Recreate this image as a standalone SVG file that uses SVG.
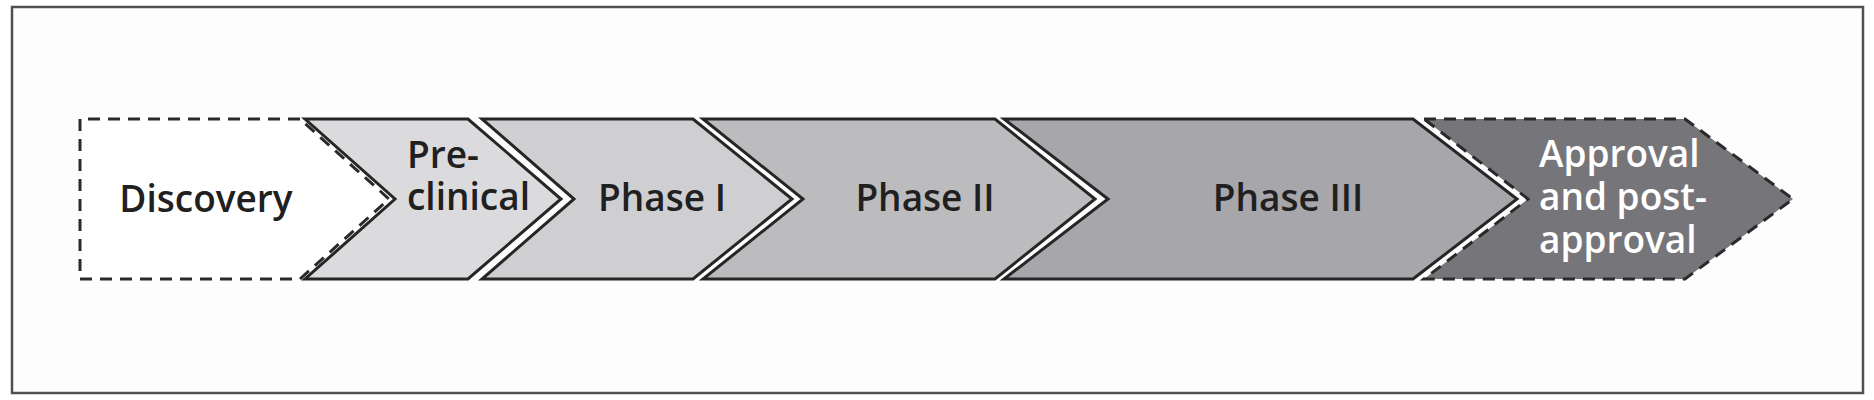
<svg xmlns="http://www.w3.org/2000/svg" width="1874" height="400" viewBox="0 0 1874 400">
  <style>
    .frame { fill: #fdfdfd; stroke: #505050; stroke-width: 2.5; }
    .chev { stroke: #262626; stroke-width: 3; stroke-linejoin: miter; }
    .dash { stroke: #2a2a2a; stroke-width: 3; stroke-dasharray: 12 8; stroke-linejoin: miter; }
    .lbl { font-family: "Open Sans", "Liberation Sans", sans-serif; font-weight: 600; font-size: 37px; fill: #202020; }
    .lblw { font-family: "Open Sans", "Liberation Sans", sans-serif; font-weight: 600; font-size: 37px; fill: #ffffff; }
  </style>
  <rect x="0" y="0" width="1874" height="400" fill="#ffffff"/>
  <rect class="frame" x="12" y="7" width="1851" height="386"/>

  <g id="discovery">
    <path class="dash" fill="#ffffff" d="M300,119 L80,119 L80,279 L300,279 L389,199 Z"/>
    <text class="lbl" x="206" y="212" text-anchor="middle">Discovery</text>
  </g>

  <g id="preclinical">
    <polygon class="chev" fill="#dbdbdd" points="305,119 468,119 561,199 468,279 305,279 395,199"/>
    <text class="lbl" x="407" y="168">Pre-</text>
    <text class="lbl" x="407" y="210">clinical</text>
  </g>

  <g id="phase1">
    <polygon class="chev" fill="#cfcfd2" points="482,119 693,119 792,199 693,279 482,279 574,199"/>
    <text class="lbl" x="662" y="211" text-anchor="middle">Phase I</text>
  </g>

  <g id="phase2">
    <polygon class="chev" fill="#bcbcbf" points="703,119 995,119 1095,199 995,279 703,279 803,199"/>
    <text class="lbl" x="925" y="211" text-anchor="middle">Phase II</text>
  </g>

  <g id="phase3">
    <polygon class="chev" fill="#a6a6ab" points="1004,119 1413,119 1517,199 1413,279 1004,279 1108,199"/>
    <text class="lbl" x="1288" y="211" text-anchor="middle">Phase III</text>
  </g>

  <g id="approval">
    <polygon class="dash" fill="#76767a" points="1424,119 1685,119 1793,199 1685,279 1424,279 1528,199"/>
    <text class="lblw" x="1539" y="167">Approval</text>
    <text class="lblw" x="1539" y="210">and post-</text>
    <text class="lblw" x="1539" y="253">approval</text>
  </g>

  <g id="connectors"></g>
</svg>
